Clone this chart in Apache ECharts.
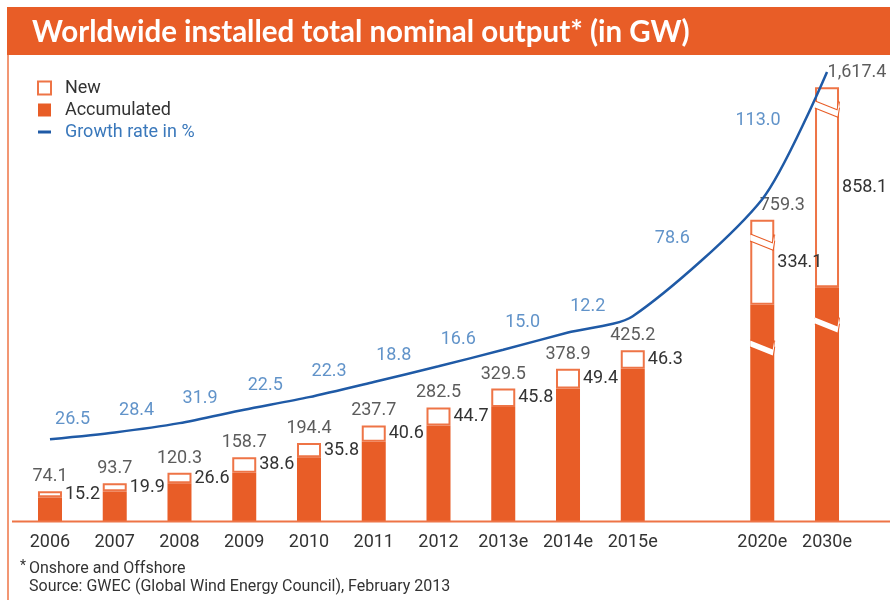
<!DOCTYPE html>
<html>
<head>
<meta charset="utf-8">
<script src="https://cdn.jsdelivr.net/npm/echarts@6/dist/echarts.min.js"></script>
<style>
  html, body { margin: 0; background: #fff; }
  #chart { width: 890px; height: 600px; }
</style>
</head>
<body>
<div id="chart"></div>
<script>
// values (GW); '' is the empty slot before the 2020e/2030e bars
const years = ['2006', '2007', '2008', '2009', '2010', '2011', '2012', '2013e', '2014e', '2015e', '', '2020e', '2030e']
const totals = [74.1, 93.7, 120.3, 158.7, 194.4, 237.7, 282.5, 329.5, 378.9, 425.2, null, 759.3, 1617.4]
const added = [15.2, 19.9, 26.6, 38.6, 35.8, 40.6, 44.7, 45.8, 49.4, 46.3, null, 334.1, 858.1]
// growth rate in %, shown on the segment that ends at that year
const growth = [null, 26.5, 28.4, 31.9, 22.5, 22.3, 18.8, 16.6, 15.0, 12.2, null, 78.6, 113.0]

const accumulated = totals.map((t, i) => t == null ? null : +(t - added[i]).toFixed(1))

const ORANGE = '#e85d27'
const EDGE = '#ee7446'
const BLUE = '#1f5aa6'
const BLUE_TXT = '#3a78bb'
const TXT = '#333'
const NUM_FONT = 'Roboto'

const W = 890, H = 600
const GL = 17.6, GR = 30.6, TOP = 71, BASE = 521
const BAND = (W - GL - GR) / years.length
const BAR = 24
const broken = [11, 12] // bars drawn with their own broken axes
const mainOnly = arr => arr.map((v, i) => (broken.includes(i) ? null : v))
const fmt = v => v.toLocaleString('en-US', { minimumFractionDigits: 1, maximumFractionDigits: 1 })

const chart = echarts.init(document.getElementById('chart'))

const breakStyle = {
  show: true,
  itemStyle: { color: '#fff', borderColor: ORANGE, borderWidth: 2, borderType: 'solid', opacity: 1 },
  zigzagAmplitude: 9,
  zigzagMinSpan: BAR - 1.5,
  zigzagMaxSpan: BAR - 1.5,
  zigzagZ: 100,
  expandOnClick: false
}
const quietAxis = {
  axisLine: { show: false },
  axisTick: { show: false },
  axisLabel: { show: false },
  splitLine: { show: false }
}

const numLabel = { fontFamily: NUM_FONT, fontSize: 18, color: TXT }

function brokenGrid(i) {
  return { left: GL + i * BAND + (BAND - BAR) / 2, width: BAR, top: TOP, bottom: H - BASE }
}

// k = 1 or 2 -> its own grid / xAxis k / yAxis k + 1
function brokenSeries(k, i) {
  return [
    {
      name: 'Accumulated', type: 'bar', xAxisIndex: k, yAxisIndex: k + 1, stack: 'b' + k,
      barWidth: BAR, itemStyle: { color: ORANGE }, data: [accumulated[i]]
    },
    {
      name: 'New', type: 'bar', xAxisIndex: k, yAxisIndex: k + 1, stack: 'b' + k,
      barWidth: BAR, itemStyle: { color: '#fff', borderColor: EDGE, borderWidth: 2 },
      label: { show: true, position: 'right', distance: 3, ...numLabel },
      data: [added[i]]
    },
    {
      name: 'total' + k, type: 'scatter', xAxisIndex: k, yAxisIndex: k + 1,
      symbolSize: 1, itemStyle: { color: 'rgba(0,0,0,0)' },
      label: { show: true, position: 'top', distance: 5, offset: [k === 1 ? 20 : 30, 0], formatter: p => fmt(p.value), ...numLabel },
      data: [totals[i]]
    }
  ]
}

const option = {
  animation: false,
  backgroundColor: '#fff',
  legend: {
    orient: 'vertical',
    left: 32,
    top: 74,
    itemWidth: 13,
    itemHeight: 13,
    itemGap: 4,
    selectedMode: false,
    symbolKeepAspect: true,
    formatter: name => '  ' + name,
    textStyle: { fontFamily: 'Roboto', fontSize: 18, color: TXT },
    data: [
      { name: 'New', icon: 'rect' },
      { name: 'Accumulated', icon: 'rect' },
      { name: 'Growth rate in %', icon: 'path://M0,5H13V8H0Z', itemStyle: { color: BLUE }, textStyle: { color: BLUE_TXT } }
    ]
  },
  grid: [
    { left: GL, right: GR, top: TOP, bottom: H - BASE },
    brokenGrid(11),
    brokenGrid(12)
  ],
  xAxis: [
    {
      type: 'category', gridIndex: 0, data: years,
      axisLine: { show: false }, axisTick: { show: false },
      axisLabel: { interval: 0, fontFamily: NUM_FONT, fontSize: 18, color: TXT, margin: 12 }
    },
    { type: 'category', gridIndex: 1, data: [years[11]], show: false },
    { type: 'category', gridIndex: 2, data: [years[12]], show: false }
  ],
  yAxis: [
    { type: 'value', gridIndex: 0, min: 0, max: 1120, show: false },
    {
      type: 'value', gridIndex: 0, min: -159, max: 1620, ...quietAxis,
      breaks: [{ start: 900, end: 1400, gap: 5 }],
      breakArea: { show: false }
    },
    {
      type: 'value', gridIndex: 1, min: 0, max: 908, ...quietAxis,
      breaks: [{ start: 175, end: 390, gap: 6 }, { start: 490, end: 745, gap: 6 }],
      breakArea: breakStyle
    },
    {
      type: 'value', gridIndex: 2, min: 0, max: 1650, ...quietAxis,
      breaks: [{ start: 396, end: 700, gap: 12 }, { start: 1120, end: 1590, gap: 12 }],
      breakArea: breakStyle
    }
  ],
  series: [
    {
      name: 'Accumulated', type: 'bar', xAxisIndex: 0, yAxisIndex: 0, stack: 'main',
      barWidth: BAR, itemStyle: { color: ORANGE }, data: mainOnly(accumulated)
    },
    {
      name: 'New', type: 'bar', xAxisIndex: 0, yAxisIndex: 0, stack: 'main',
      barWidth: BAR, itemStyle: { color: '#fff', borderColor: EDGE, borderWidth: 2 },
      label: { show: true, position: 'right', distance: 3, ...numLabel },
      data: mainOnly(added)
    },
    {
      name: 'Growth rate in %', type: 'line', xAxisIndex: 0, yAxisIndex: 1,
      data: totals, connectNulls: true, symbol: 'none', smooth: 0.25,
      lineStyle: { color: BLUE, width: 2.5 }, itemStyle: { color: BLUE }, z: 5
    },
    {
      name: 'growthLabels', type: 'scatter', xAxisIndex: 0, yAxisIndex: 1,
      symbolSize: 1, itemStyle: { color: 'rgba(0,0,0,0)' },
      label: {
        show: true, position: 'inside', formatter: p => growth[p.value[0]].toFixed(1),
        fontFamily: NUM_FONT, fontSize: 18, color: BLUE_TXT
      },
      data: []
    },
    {
      name: 'totals', type: 'scatter', xAxisIndex: 0, yAxisIndex: 0,
      symbolSize: 1, itemStyle: { color: 'rgba(0,0,0,0)' },
      label: { show: true, position: 'top', distance: 5, formatter: p => fmt(p.value), ...numLabel },
      data: mainOnly(totals)
    },
    ...brokenSeries(1, 11),
    ...brokenSeries(2, 12)
  ],
  graphic: [
    { type: 'rect', shape: { x: 7, y: 7, width: W - 7, height: 48 }, style: { fill: ORANGE }, z: 1 },
    {
      type: 'text', x: 32, y: 32, z: 2,
      style: {
        text: 'Worldwide installed total nominal output* (in GW)',
        font: 'bold 29.5px Lato', fill: '#fff', textVerticalAlign: 'middle'
      }
    },
    { type: 'line', shape: { x1: 8, y1: 55, x2: 8, y2: H }, style: { stroke: EDGE, lineWidth: 1.5 } },
    { type: 'line', shape: { x1: 12, y1: BASE + 0.5, x2: W, y2: BASE + 0.5 }, style: { stroke: EDGE, lineWidth: 2 }, z: 10 },
    { type: 'text', x: 20, y: 559, style: { text: '*', font: '14px Roboto', fill: TXT } },
    {
      type: 'text', x: 29, y: 569,
      style: { text: 'Onshore and Offshore', font: '16px Roboto', fill: TXT, textVerticalAlign: 'middle' }
    },
    {
      type: 'text', x: 29, y: 587,
      style: { text: 'Source: GWEC (Global Wind Energy Council), February 2013', font: '16px Roboto', fill: TXT, textVerticalAlign: 'middle' }
    }
  ]
}

chart.setOption(option)

// growth labels sit beside the middle of each line segment, pushed off the line along its normal
const lineIdx = 2
const pts = totals.map((v, i) => (v == null ? null : chart.convertToPixel({ seriesIndex: lineIdx }, [i, v])))
const growthData = []
growth.forEach((g, i) => {
  if (g == null) return
  let j = i - 1
  while (pts[j] == null) j--
  const a = pts[j], b = pts[i]
  const dx = b[0] - a[0], dy = b[1] - a[1]
  const len = Math.hypot(dx, dy)
  const nx = dy / len, ny = -dx / len
  const w = g.toFixed(1).length * 9.5, h = 13
  const d = 8 + Math.abs(nx) * w / 2 + Math.abs(ny) * h / 2
  const cx = (a[0] + b[0]) / 2 + nx * d - 8
  const cy = (a[1] + b[1]) / 2 + ny * d
  growthData.push({ value: [i, totals[i]], label: { offset: [cx - b[0], cy - b[1]] } })
})
chart.setOption({ series: [{ name: 'growthLabels', data: growthData }] })
</script>
</body>
</html>
